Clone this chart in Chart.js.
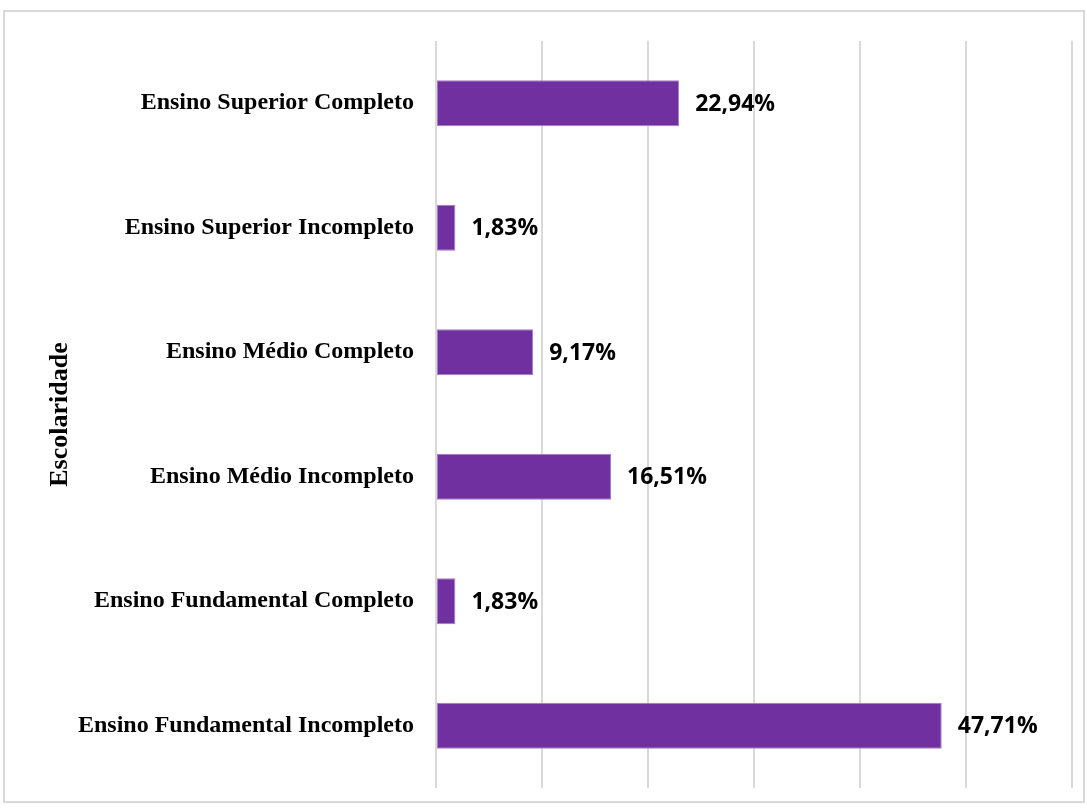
<!DOCTYPE html>
<html lang="pt">
  <head>
    <meta charset="UTF-8" />
    <title>Escolaridade</title>
    <style>
      body {
        margin: 0;
        background-color: white;
      }
      .frame {
        position: absolute;
        left: 3px;
        top: 10px;
        width: 1078px;
        height: 789px;
        border: 2px solid #d9d9d9;
      }
      .chart-box {
        position: absolute;
        left: 0;
        top: 0;
        width: 1087px;
        height: 809px;
      }
    </style>
    <script src="https://cdn.jsdelivr.net/npm/chart.js"></script>
  </head>
  <body>
    <div class="frame"></div>
    <div class="chart-box">
      <canvas id="barChart" width="1087" height="809"></canvas>
    </div>

    <script>
      // data
      const categories = [
        "Ensino Superior Completo",
        "Ensino Superior Incompleto",
        "Ensino Médio Completo",
        "Ensino Médio Incompleto",
        "Ensino Fundamental Completo",
        "Ensino Fundamental Incompleto",
      ];
      const percentages = [22.94, 1.83, 9.17, 16.51, 1.83, 47.71];
      const valueLabels = ["22,94%", "1,83%", "9,17%", "16,51%", "1,83%", "47,71%"];
      const axisTitle = "Escolaridade";

      // draws the value next to each bar
      const barValues = {
        id: "barValues",
        afterDatasetsDraw(chart) {
          const ctx = chart.ctx;
          const meta = chart.getDatasetMeta(0);
          ctx.save();
          ctx.font = "bold 23px 'Open Sans'";
          ctx.fillStyle = "#000";
          ctx.textAlign = "left";
          ctx.textBaseline = "middle";
          meta.data.forEach(function (bar, i) {
            ctx.fillText(valueLabels[i], bar.x + 16, bar.y + 1);
          });
          ctx.restore();
        },
      };

      const ctx = document.getElementById("barChart").getContext("2d");
      new Chart(ctx, {
        type: "bar",
        data: {
          labels: categories,
          datasets: [
            {
              data: percentages,
              backgroundColor: "#7030a0",
              borderColor: "#a07cc4",
              borderWidth: 1,
              borderSkipped: false,
              categoryPercentage: 1,
              barPercentage: 0.37,
            },
          ],
        },
        options: {
          indexAxis: "y",
          responsive: false,
          animation: false,
          devicePixelRatio: 1,
          layout: {
            padding: { top: 41, bottom: 21, left: 45, right: 15 },
          },
          plugins: {
            legend: { display: false },
            tooltip: { enabled: false },
          },
          scales: {
            x: {
              min: 0,
              max: 60,
              ticks: { display: false, stepSize: 10 },
              grid: { color: "#d9d9d9", lineWidth: 2, drawTicks: false },
              border: { display: false },
              afterFit(scale) {
                scale.height = 0;
                scale.paddingLeft = 0;
                scale.paddingRight = 0;
              },
            },
            y: {
              grid: { display: false, drawTicks: false },
              border: { display: false },
              ticks: {
                padding: 22,
                color: "#000",
                font: { family: "'Liberation Serif'", size: 24, weight: "bold" },
              },
              title: {
                display: true,
                text: axisTitle,
                color: "#000",
                padding: 0,
                font: { family: "'Liberation Serif'", size: 26, weight: "bold" },
              },
              afterFit(scale) {
                scale.width = 391;
                scale.paddingTop = 0;
                scale.paddingBottom = 0;
              },
            },
          },
        },
        plugins: [barValues],
      });
    </script>
  </body>
</html>
